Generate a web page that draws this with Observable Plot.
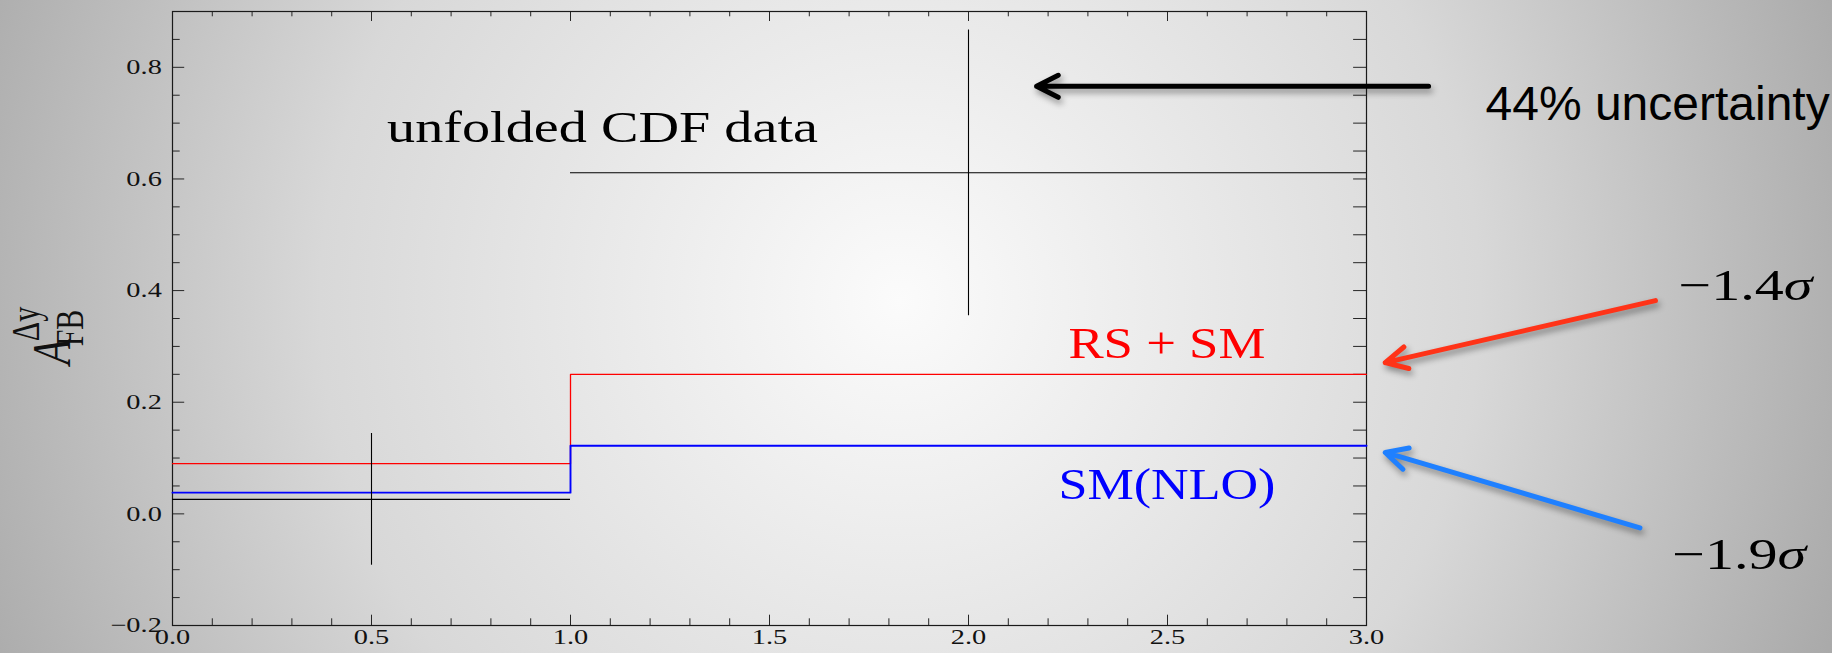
<!DOCTYPE html>
<html>
<head>
<meta charset="utf-8">
<script src="https://cdn.jsdelivr.net/npm/d3@7"></script>
<script src="https://cdn.jsdelivr.net/npm/@observablehq/plot@0.6"></script>
<style>
  html, body { margin: 0; padding: 0; overflow: hidden; background: #c4c4c4; }
  svg { display: block; }
</style>
</head>
<body>
<script>
// Forward–backward asymmetry A_FB versus |Δy|, two bins: [0,1) and [1,3]
const binEdges = [0, 1, 3];
const rsPlusSM = [0.09, 0.25];   // RS + SM prediction per bin
const smNLO = [0.038, 0.122];    // SM (NLO) prediction per bin

// Unfolded CDF measurement
const cdfLow = [0, 1];
const cdfHigh = [1, 3];
const cdfCentre = [0.5, 2];
const cdfValue = [0.026, 0.611];
const cdfError = [0.118, 0.256];

// Axis ticks
const xMajor = [0, 0.5, 1, 1.5, 2, 2.5, 3];
const xTickLabels = ["0.0", "0.5", "1.0", "1.5", "2.0", "2.5", "3.0"];
const yMajor = [-0.2, 0, 0.2, 0.4, 0.6, 0.8];
const yTickLabels = ["\u22120.2", "0.0", "0.2", "0.4", "0.6", "0.8"];
const xMinor = d3.range(1, 30).map(i => i / 10).filter(v => !xMajor.includes(v));
const yMinor = d3.range(-3, 18).map(i => i / 20).filter(v => !yMajor.includes(v));

// Annotation labels (anchored at the start of their baseline, in data units)
const noteText = ["unfolded CDF data", "RS + SM", "SM(NLO)", "44% uncertainty", "\u22121.4\u03c3", "\u22121.9\u03c3"];
const noteX = [0.539, 2.251, 2.226, 3.299, 3.784, 3.768];
const noteY = [0.666, 0.280, 0.027, 0.706, 0.384, -0.098];

// Call-out arrows (tail → head, in data units)
const arrowX1 = [3.156, 3.726, 3.687];
const arrowY1 = [0.766, 0.382, -0.025];
const arrowX2 = [2.171, 3.047, 3.047];
const arrowY2 = [0.766, 0.271, 0.110];
const arrowColor = ["#000000", "#ff3318", "#1f80ff"];

// Layout
const W = 1832, H = 653, mL = 172, mR = 466, mT = 11, mB = 28;
const fw = W - mL - mR, fh = H - mT - mB;
const tickColor = "#262626";

const stepPoints = values => binEdges.map((e, i) => ({x: e, y: values[Math.min(i, values.length - 1)]}));
const cdf = cdfCentre.map((c, i) => ({lo: cdfLow[i], hi: cdfHigh[i], c, v: cdfValue[i], e: cdfError[i]}));
const idx = a => a.map((_, i) => i);

const note = (i, opts) => Plot.text([i], {
  x: () => noteX[i], y: () => noteY[i], text: () => noteText[i],
  textAnchor: "start", lineAnchor: "bottom", ...opts
});

const chart = Plot.plot({
  width: W, height: H,
  marginLeft: mL, marginRight: mR, marginTop: mT, marginBottom: mB,
  x: {domain: [0, 3], axis: null},
  y: {domain: [-0.2, 0.9], axis: null},
  color: {type: "identity"},
  style: {
    background: "radial-gradient(circle 1000px at 900px 300px, #fbfbfb 0%, #d8d8d8 58%, #a9a9a9 100%)",
    fontFamily: "Liberation Serif",
    fontSize: "21px",
    color: "#111"
  },
  marks: [
    // inward ticks: left, right, bottom, top
    Plot.ruleY(yMajor, {y: d => d, stroke: tickColor, insetRight: fw - 12.2}),
    Plot.ruleY(yMinor, {y: d => d, stroke: tickColor, insetRight: fw - 7.7}),
    Plot.ruleY(yMajor.concat(yMinor), {y: d => d, stroke: tickColor, insetLeft: fw - 12.9}),
    Plot.ruleX(xMajor, {x: d => d, stroke: tickColor, insetTop: fh - 10.3}),
    Plot.ruleX(xMinor, {x: d => d, stroke: tickColor, insetTop: fh - 6.7}),
    Plot.ruleX(xMajor, {x: d => d, stroke: tickColor, insetBottom: fh - 10}),
    Plot.ruleX(xMinor, {x: d => d, stroke: tickColor, insetBottom: fh - 5.3}),
    Plot.frame({stroke: "#1a1a1a", strokeWidth: 1.2}),

    // tick labels
    Plot.text(idx(yMajor), {y: i => yMajor[i], text: i => yTickLabels[i], frameAnchor: "left",
      textAnchor: "end", dx: -10.7, fontSize: 21, fill: "#111"}),
    Plot.text(idx(xMajor), {x: i => xMajor[i], text: i => xTickLabels[i], frameAnchor: "bottom",
      lineAnchor: "top", dy: 4, fontSize: 21, fill: "#111"}),

    // predictions
    Plot.line(stepPoints(rsPlusSM), {x: "x", y: "y", curve: "step-after", stroke: "#ff0000", strokeWidth: 1.3}),
    Plot.line(stepPoints(smNLO), {x: "x", y: "y", curve: "step-after", stroke: "#0000ff", strokeWidth: 1.9}),

    // CDF data: bin widths and error bars
    Plot.ruleY(cdf, {x1: "lo", x2: "hi", y: "v", stroke: "#000", strokeWidth: 1.1}),
    Plot.ruleX(cdf, {x: "c", y1: d => d.v - d.e, y2: d => d.v + d.e, stroke: "#000", strokeWidth: 1.1}),

    // labels
    note(0, {fontSize: 45, fill: "#000"}),
    note(1, {fontSize: 44, fill: "#ff0000"}),
    note(2, {fontSize: 45, fill: "#0000ff"}),
    note(3, {fontSize: 48, fill: "#000", fontFamily: "Liberation Sans"}),
    note(4, {fontSize: 44, fill: "#000"}),
    note(5, {fontSize: 44, fill: "#000"}),

    // call-out arrows
    Plot.arrow(idx(arrowX1), {
      x1: i => arrowX1[i], y1: i => arrowY1[i], x2: i => arrowX2[i], y2: i => arrowY2[i],
      stroke: i => arrowColor[i], strokeWidth: 5, headLength: 7.3, headAngle: 54
    })
  ]
});

document.body.append(chart);
const svg = d3.select(chart.tagName.toLowerCase() === "svg" ? chart : chart.querySelector("svg"));

// Italic σ in the significance labels
svg.selectAll("text").each(function () {
  const t = this.textContent;
  if (t.endsWith("\u03c3")) {
    this.textContent = t.slice(0, -1);
    const s = document.createElementNS("http://www.w3.org/2000/svg", "tspan");
    s.setAttribute("font-style", "italic");
    s.textContent = "\u03c3";
    this.appendChild(s);
  }
});

// Widen the plot lettering to its printed widths
const targetWidth = new Map([
  ["unfolded CDF data", 431], ["RS + SM", 197], ["SM(NLO)", 217],
  ["\u22121.4\u03c3", 134], ["\u22121.9\u03c3", 134]
]);
const tickSet = new Set(xTickLabels.concat(yTickLabels));
svg.selectAll("text").each(function () {
  const t = this.textContent;
  let w = null;
  if (targetWidth.has(t)) w = targetWidth.get(t);
  else if (tickSet.has(t)) w = this.getComputedTextLength() * 1.35;
  if (w) {
    this.setAttribute("textLength", w);
    this.setAttribute("lengthAdjust", "spacingAndGlyphs");
  }
});

// Soft shadow under the call-out arrows
svg.selectAll('g[aria-label="arrow"]').style("filter", "drop-shadow(2px 4px 3px rgba(0,0,0,0.4))");

// Y axis title: A_FB^{Δy}
const yl = svg.append("text")
  .attr("transform", "translate(70,352) scale(1.3,1) rotate(-90)")
  .attr("font-family", "Liberation Serif")
  .attr("fill", "#111");
yl.append("tspan").attr("x", 0).attr("y", 0).attr("font-style", "italic").attr("font-size", 42).text("A");
yl.append("tspan").attr("x", 24).attr("y", 10).attr("font-size", 30).text("FB");
yl.append("tspan").attr("x", 28).attr("y", -24).attr("font-size", 30).text("\u0394y");
</script>
</body>
</html>
